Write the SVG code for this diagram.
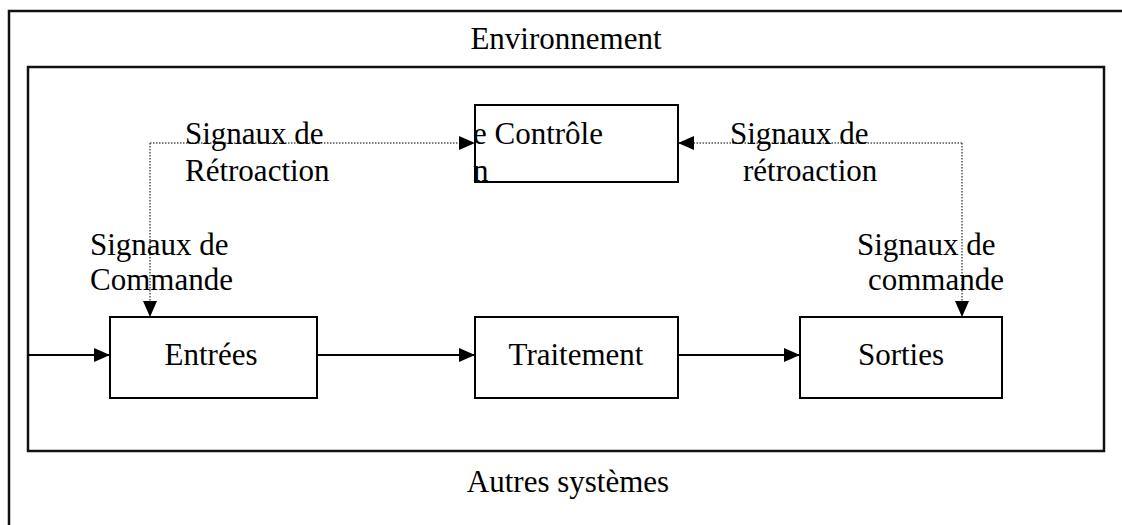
<svg xmlns="http://www.w3.org/2000/svg" width="1122" height="525" viewBox="0 0 1122 525">
<style>
text{font-family:"Liberation Serif","Times New Roman",serif;font-size:31px;fill:#000}
.frame{fill:none;stroke:#111;stroke-width:2.5}
.box{fill:#fff;stroke:#000;stroke-width:2}
.solid{fill:none;stroke:#000;stroke-width:2}
.dot{fill:none;stroke:#555;stroke-width:1.5;stroke-dasharray:1.5 1.5}
</style>
<defs>
<marker id="ah" markerWidth="16" markerHeight="14" refX="16" refY="7" orient="auto" markerUnits="userSpaceOnUse">
<path d="M0,0 L16,7 L0,14 Z" fill="#000"/>
</marker>
</defs>
<rect width="1122" height="525" fill="#fff"/>
<g id="outer-frame">
<path class="frame" d="M9,530 L9,11 L1130,11"/>
<text x="566" y="49" text-anchor="middle">Environnement</text>
<text x="568" y="492" text-anchor="middle">Autres systèmes</text>
</g>
<g id="inner-frame">
<rect class="frame" x="28" y="67" width="1076" height="384"/>
</g>
<g id="connectors">
<line class="solid" x1="28" y1="355" x2="110" y2="355" marker-end="url(#ah)"/>
<line class="solid" x1="317" y1="355" x2="475" y2="355" marker-end="url(#ah)"/>
<line class="solid" x1="678" y1="355" x2="800" y2="355" marker-end="url(#ah)"/>
<path class="dot" d="M150,143 L150,317" marker-end="url(#ah)"/>
<path class="dot" d="M150,143 L475,143" marker-end="url(#ah)"/>
<path class="dot" d="M962,143 L962,317" marker-end="url(#ah)"/>
<path class="dot" d="M962,143 L678,143" marker-end="url(#ah)"/>
</g>
<g id="controle">
<rect class="box" x="475" y="105" width="203" height="77" style="fill:none"/>
<text x="473" y="144">e Contrôle</text>
<text x="473" y="181">n</text>
</g>
<g id="entrees">
<rect class="box" x="110" y="317" width="207" height="81"/>
<text x="211" y="365" text-anchor="middle">Entrées</text>
</g>
<g id="traitement">
<rect class="box" x="475" y="317" width="203" height="81"/>
<text x="576" y="365" text-anchor="middle">Traitement</text>
</g>
<g id="sorties">
<rect class="box" x="800" y="317" width="202" height="81"/>
<text x="901" y="365" text-anchor="middle">Sorties</text>
</g>
<g id="labels">
<text x="185" y="144">Signaux de</text>
<text x="185" y="181">Rétroaction</text>
<text x="730" y="144">Signaux de</text>
<text x="743" y="181">rétroaction</text>
<text x="90" y="255">Signaux de</text>
<text x="90" y="290">Commande</text>
<text x="857" y="255">Signaux de</text>
<text x="868" y="290">commande</text>
</g>
</svg>
